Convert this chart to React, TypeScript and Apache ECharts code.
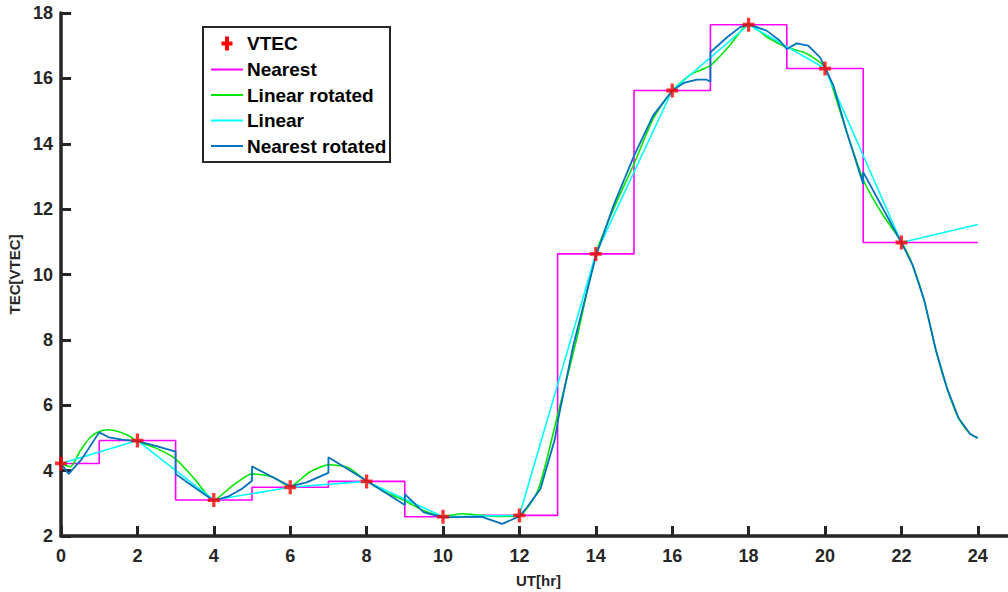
import React, { useEffect, useRef } from "react";
import * as echarts from "echarts";

// VTEC samples (every 2 h)
const vtecX = [0, 2, 4, 6, 8, 10, 12, 14, 16, 18, 20, 22];
const vtecY = [4.22, 4.92, 3.1, 3.49, 3.67, 2.59, 2.63, 10.63, 15.63, 17.64, 16.3, 10.98];

// Nearest (step at midpoints), extended to 24 h
const nearestX = [0, 2, 4, 6, 8, 10, 12, 14, 16, 18, 20, 22, 24];
const nearestY = [4.22, 4.92, 3.1, 3.49, 3.67, 2.59, 2.63, 10.63, 15.63, 17.64, 16.3, 10.98, 10.98];

// Linear, extrapolated to 24 h
const linearX = [0, 2, 4, 6, 8, 10, 12, 14, 16, 18, 20, 22, 24];
const linearY = [4.22, 4.92, 3.1, 3.49, 3.67, 2.59, 2.63, 10.63, 15.63, 17.64, 16.3, 10.98, 11.53];

// Linear rotated
const linRotX = [0, 0.25, 0.5, 0.75, 1, 1.25, 1.5, 1.75, 2, 2.5, 3, 3.5, 4, 4.5, 5, 5.5, 6, 6.5, 7, 7.5, 8, 8.5, 9, 9.5, 10, 10.5, 11, 11.5, 12, 12.5, 13, 13.5, 14, 14.5, 15, 15.5, 16, 16.5, 17, 17.5, 18, 18.5, 19, 19.5, 20, 20.5, 21, 21.5, 22, 22.3, 22.6, 22.9, 23.2, 23.5, 23.8, 24];
const linRotY = [4.22, 4.12, 4.6, 5.0, 5.2, 5.25, 5.2, 5.08, 4.9, 4.68, 4.36, 3.74, 3.1, 3.55, 3.9, 3.82, 3.52, 3.95, 4.18, 4.1, 3.68, 3.34, 3.08, 2.77, 2.6, 2.68, 2.63, 2.6, 2.62, 3.44, 5.7, 8.03, 10.63, 12.1, 13.38, 14.76, 15.63, 16.13, 16.39, 17.0, 17.66, 17.25, 16.95, 16.77, 16.34, 14.6, 12.9, 11.85, 11.0, 10.27, 9.2, 7.7, 6.5, 5.6, 5.12, 5.0];

// Nearest rotated
const nearRotX = [0, 0.2, 0.55, 1, 1.25, 1.6, 2, 2.5, 3, 3, 3.33, 3.68, 4, 4.38, 4.73, 5, 5, 6, 6.43, 7, 7, 8, 9, 9, 9.5, 10, 11, 11.55, 12, 12.2, 12.55, 12.93, 13.02, 13.41, 14, 14.46, 15, 15.5, 16, 16.3, 16.65, 16.9, 17, 17, 17.43, 17.77, 18, 18.47, 18.82, 19, 19.26, 19.56, 19.87, 20, 20.22, 20.57, 21, 21, 22, 22.3, 22.6, 22.9, 23.2, 23.5, 23.8, 24];
const nearRotY = [4.22, 3.9, 4.36, 5.17, 5.02, 4.95, 4.9, 4.75, 4.58, 3.9, 3.62, 3.34, 3.08, 3.21, 3.44, 3.69, 4.13, 3.52, 3.64, 3.93, 4.41, 3.69, 2.95, 3.28, 2.72, 2.57, 2.59, 2.37, 2.6, 2.88, 3.44, 4.97, 5.6, 7.82, 10.55, 12.1, 13.63, 14.86, 15.62, 15.86, 15.96, 15.96, 15.9, 16.8, 17.25, 17.56, 17.66, 17.46, 17.15, 16.9, 17.07, 17.0, 16.64, 16.34, 15.78, 14.35, 12.77, 13.13, 10.98, 10.27, 9.2, 7.7, 6.5, 5.6, 5.12, 5.0];

const xTicks = [0, 2, 4, 6, 8, 10, 12, 14, 16, 18, 20, 22, 24];

const legendNames = ["VTEC", "Nearest", "Linear rotated", "Linear", "Nearest rotated"];
const COLORS = {
  vtec: "#FF0000",
  nearest: "#FF00FF",
  linRot: "#00E600",
  linear: "#00FFFF",
  nearRot: "#0072BD",
};

const zip = (xs: number[], ys: number[]) => xs.map((x, i) => [x, ys[i]]);

const FONT = "'Liberation Sans', Arial, sans-serif";
const AXIS = "#262626";
const PLUS = "path://M4,0H7V4H11V7H7V11H4V7H0V4H4Z";

export default function App() {
  const ref = useRef<HTMLDivElement>(null);
  useEffect(() => {
    if (!ref.current) return;
    const chart = echarts.init(ref.current, undefined, { renderer: "svg" });
    const legendColors = [COLORS.vtec, COLORS.nearest, COLORS.linRot, COLORS.linear, COLORS.nearRot];
    const legendY = [43.5, 69.5, 95, 120.5, 146];
    const legendEls: any[] = [
      {
        type: "rect",
        shape: { x: 203, y: 27, width: 187, height: 135 },
        style: { fill: "#fff", stroke: "#262626", lineWidth: 2 },
        z: 100,
      },
    ];
    legendNames.forEach((name, i) => {
      const y = legendY[i];
      if (i === 0) {
        legendEls.push({
          type: "rect",
          shape: { x: 225, y: y - 7, width: 4, height: 14 },
          style: { fill: COLORS.vtec },
          z: 101,
        });
        legendEls.push({
          type: "rect",
          shape: { x: 221.5, y: y - 2, width: 11, height: 4 },
          style: { fill: COLORS.vtec },
          z: 101,
        });
      } else {
        legendEls.push({
          type: "line",
          shape: { x1: 211, y1: y, x2: 243, y2: y },
          style: { stroke: legendColors[i], lineWidth: 2 },
          z: 101,
        });
      }
      legendEls.push({
        type: "text",
        x: 247,
        y,
        style: {
          text: name,
          fill: "#000",
          font: `bold 19px ${FONT}`,
          verticalAlign: "middle",
          align: "left",
        },
        z: 101,
      });
    });

    chart.setOption({
      animation: false,
      backgroundColor: "#fff",
      grid: {
        left: 61,
        right: -8,
        top: 13,
        bottom: 56,
        containLabel: false,
        outerBoundsMode: "none",
      },
      xAxis: {
        type: "value",
        min: 0,
        max: 25,
        interval: 2,
        name: "UT[hr]",
        nameLocation: "middle",
        nameGap: 37,
        nameTextStyle: { color: AXIS, fontWeight: "bold", fontSize: 15, fontFamily: FONT },
        axisLine: { show: true, lineStyle: { color: AXIS, width: 3.5 } },
        axisTick: { show: true, inside: true, length: 10, lineStyle: { color: AXIS, width: 3 } },
        axisLabel: {
          color: AXIS,
          fontWeight: "bold",
          fontSize: 18,
          fontFamily: FONT,
          margin: 11,
          formatter: (v: number) => (xTicks.includes(v) ? String(v) : ""),
        },
        splitLine: { show: false },
      },
      yAxis: {
        type: "value",
        min: 2,
        max: 18,
        interval: 2,
        name: "TEC[VTEC]",
        nameLocation: "middle",
        nameGap: 37,
        nameTextStyle: { color: AXIS, fontWeight: "bold", fontSize: 15, fontFamily: FONT },
        axisLine: { show: true, lineStyle: { color: AXIS, width: 3.5 } },
        axisTick: { show: true, inside: true, length: 10, lineStyle: { color: AXIS, width: 3 } },
        axisLabel: { color: AXIS, fontWeight: "bold", fontSize: 18, fontFamily: FONT, margin: 8 },
        splitLine: { show: false },
      },
      series: [
        {
          name: "Nearest",
          type: "line",
          step: "middle",
          data: zip(nearestX, nearestY),
          showSymbol: false,
          lineStyle: { color: COLORS.nearest, width: 1.6 },
          z: 2,
        },
        {
          name: "Linear rotated",
          type: "line",
          data: zip(linRotX, linRotY),
          showSymbol: false,
          smooth: 0.2,
          lineStyle: { color: COLORS.linRot, width: 1.6 },
          z: 3,
        },
        {
          name: "Linear",
          type: "line",
          data: zip(linearX, linearY),
          showSymbol: false,
          lineStyle: { color: COLORS.linear, width: 1.6 },
          z: 4,
        },
        {
          name: "Nearest rotated",
          type: "line",
          data: zip(nearRotX, nearRotY),
          showSymbol: false,
          lineStyle: { color: COLORS.nearRot, width: 1.8 },
          z: 5,
        },
        {
          name: "VTEC",
          type: "scatter",
          data: zip(vtecX, vtecY),
          symbol: PLUS,
          symbolSize: [12, 14],
          itemStyle: { color: COLORS.vtec },
          z: 6,
        },
      ],
      graphic: legendEls,
    });
    return () => chart.dispose();
  }, []);
  return (
    <div
      ref={ref}
      style={{ position: "fixed", left: 0, top: 0, width: 1008, height: 592 }}
    />
  );
}
